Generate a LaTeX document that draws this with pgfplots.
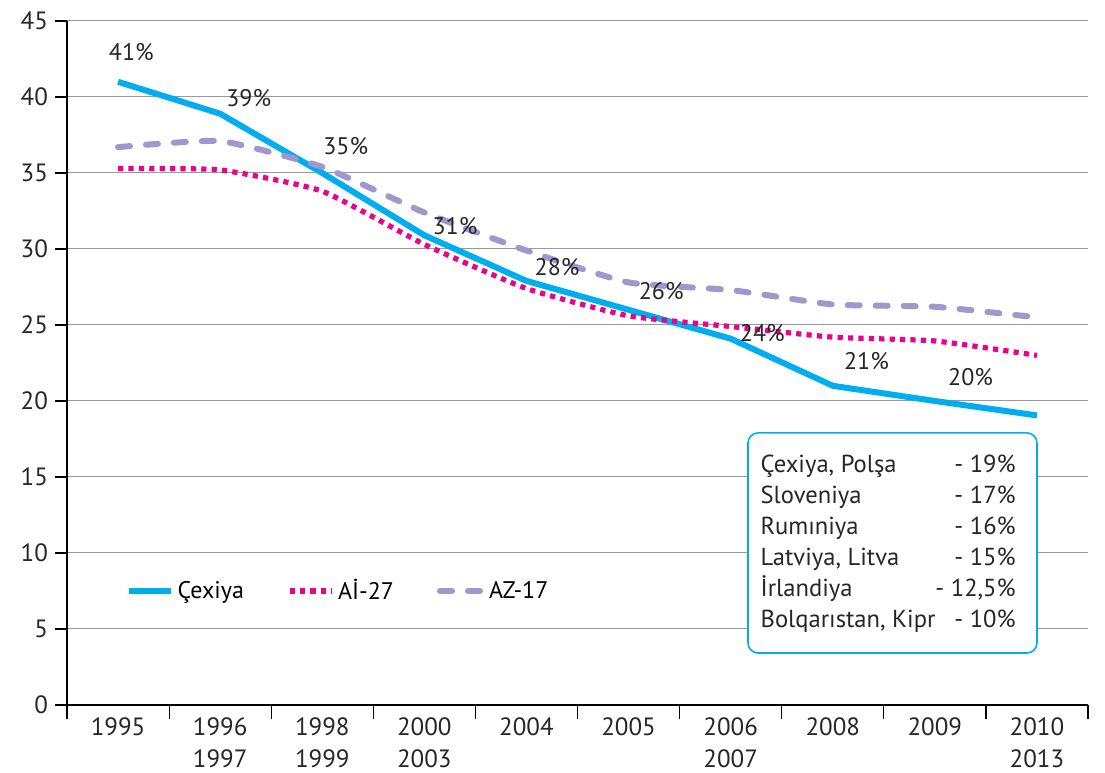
\documentclass[border=0pt]{standalone}
\usepackage{fontspec}
\setmainfont{PT Sans}
\usepackage{pgfplots}
\pgfplotsset{compat=1.18}
\definecolor{cz}{RGB}{0,174,239}
\definecolor{ai}{RGB}{236,0,140}
\definecolor{az}{RGB}{160,152,204}
\begin{document}
\begin{tikzpicture}
\begin{axis}[
  name=a,
  scale only axis, width=510.5pt, height=342pt,
  xmin=-0.5, xmax=9.5, ymin=0, ymax=45,
  axis x line*=bottom, axis y line*=left,
  axis line style={black, line width=0.8pt},
  xtick={0,...,9},
  xticklabels={1995,{1996\\1997},{1998\\1999},{2000\\2003},2004,2005,{2006\\2007},2008,2009,{2010\\2013}},
  xticklabel style={align=center, font=\fontsize{12.5}{16}\selectfont, yshift=3pt, text=black!85},
  major x tick style={draw=none},
  minor xtick={-0.5,0.5,...,9.5},
  minor x tick style={black, line width=0.6pt},
  minor tick length=7pt,
  ytick={0,5,...,45},
  yticklabel style={font=\fontsize{12.5}{14}\selectfont, text=black!85},
  major y tick style={black, line width=0.6pt},
  major tick length=6pt,
  tick align=outside,
  ymajorgrids, grid style={gray!80, line width=0.5pt},
  /pgf/number format/assume math mode=true,
  clip=false,
  legend style={draw=none, fill=none, inner sep=0pt, at={(axis cs:0.07,7.5)}, anchor=west,
    legend columns=3, font=\fontsize{12}{14}\selectfont,
    /tikz/every even column/.append style={column sep=19.5pt}},
  legend image code/.code={\draw[#1] (0pt,0pt) -- (21pt,0pt);},
]
\addplot[cz, line width=3pt, line join=round] coordinates {
(0,41) (1,38.9) (2,35.0) (3,30.9) (4,27.9) (5,26.0) (6,24.1) (7,21.0) (8,20.0) (9,19.05)};
\addlegendentry{Çexiya}
\addplot[ai, line width=2.6pt, dash pattern=on 2.6pt off 2.6pt, smooth, tension=0.3] coordinates {
(0,35.3) (1,35.2) (2,33.8) (3,30.3) (4,27.4) (5,25.6) (6,24.9) (7,24.2) (8,23.95) (9,23.0)};
\addlegendentry{Aİ-27}
\addplot[az, line width=3pt, line cap=round, dash pattern=on 6pt off 8pt, smooth, tension=0.3] coordinates {
(0,36.7) (1,37.1) (2,35.4) (3,32.4) (4,29.9) (5,27.8) (6,27.3) (7,26.35) (8,26.2) (9,25.5)};
\addlegendentry{AZ-17}
\begin{scope}[every node/.style={font=\fontsize{12}{14}\selectfont, text=black!85}]
\node at (axis cs:0.13,42.96) {41\%};
\node at (axis cs:1.28,39.9) {39\%};
\node at (axis cs:2.23,36.8) {35\%};
\node at (axis cs:3.30,31.5) {31\%};
\node at (axis cs:4.30,28.8) {28\%};
\node at (axis cs:5.32,27.2) {26\%};
\node at (axis cs:6.31,24.5) {24\%};
\node at (axis cs:7.33,22.6) {21\%};
\node at (axis cs:8.35,21.6) {20\%};
\end{scope}
\draw[cz, line width=0.8pt, rounded corners=5pt, fill=white] (axis cs:6.17,17.9) rectangle (axis cs:9.0,3.42);
\node[anchor=north west, inner sep=0pt, font=\fontsize{12.3}{15.5}\selectfont, text=black!85] at (axis cs:6.29,16.75) {%
\begin{tabular}{@{}l@{}}
\makebox[127.5pt][l]{Çexiya, Polşa\hfill - 19\%}\\
\makebox[127.5pt][l]{Sloveniya\hfill - 17\%}\\
\makebox[127.5pt][l]{Rumıniya\hfill - 16\%}\\
\makebox[127.5pt][l]{Latviya, Litva\hfill - 15\%}\\
\makebox[127.5pt][l]{İrlandiya\hfill - 12,5\%}\\
\makebox[127.5pt][l]{Bolqarıstan, Kipr\hfill - 10\%}
\end{tabular}};
\end{axis}
\pgfresetboundingbox
\path[use as bounding box] ([xshift=-33.5pt,yshift=-34pt]a.south west) rectangle ([xshift=8.5pt,yshift=10.5pt]a.north east);
\end{tikzpicture}
\end{document}
